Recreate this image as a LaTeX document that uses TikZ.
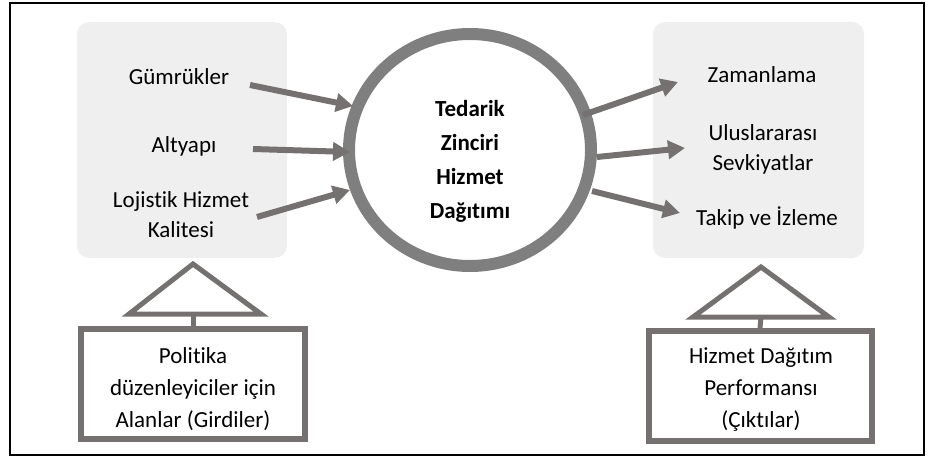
\documentclass[tikz,border=0pt]{standalone}
\usepackage{fontspec}
\setmainfont[Ligatures=NoCommon]{Carlito}
\usetikzlibrary{arrows.meta,shapes.geometric}
\definecolor{ringgray}{HTML}{7F7F7F}
\definecolor{arrgray}{HTML}{767171}
\definecolor{panel}{HTML}{EFEFEF}
\tikzset{
  lbl/.style={font=\fontsize{23}{30}\selectfont, align=center, inner sep=0pt},
  arr/.style={draw=arrgray, line width=6pt, -{Triangle[length=17pt,width=18pt]}},
  panelbox/.style={fill=panel, rounded corners=12pt, draw=none},
  outbox/.style={draw=arrgray, line width=6pt, fill=white, minimum width=224pt, minimum height=110pt, inner sep=0pt},
  tri/.style={draw=arrgray, line width=5pt, line join=miter, fill=white},
}
\begin{document}
\begin{tikzpicture}[x=1pt,y=-1pt]
\useasboundingbox (0,0) rectangle (934,457);
\draw[black, line width=2pt] (10,3) rectangle (924,455);
% panels
\fill[panelbox] (77,22) rectangle (287,258);
\fill[panelbox] (653,22) rectangle (864,258);
% central ellipse
\node[ellipse, draw=ringgray, line width=12pt, minimum width=242pt, minimum height=232pt, inner sep=0pt] (c) at (470,150) {};
\node[font=\fontsize{23}{34}\selectfont\bfseries, align=center] (ct) at (470,161) {Tedarik\\Zinciri\\Hizmet\\Dağıtımı};
% left labels
\node[lbl] (g) at (179,77) {Gümrükler};
\node[lbl] (a) at (184,146) {Altyapı};
\node[lbl] (l) at (181,215) {Lojistik Hizmet\\Kalitesi};
% right labels
\node[lbl] (z) at (762,75) {Zamanlama};
\node[lbl] (u) at (763,149) {Uluslararası\\Sevkiyatlar};
\node[lbl] (t) at (767,218) {Takip ve İzleme};
% arrow coordinates
\coordinate (g1) at (250,85);  \coordinate (g2) at (353,106);
\coordinate (a1) at (253,149); \coordinate (a2) at (350,152);
\coordinate (l1) at (257,217); \coordinate (l2) at (350,190);
\coordinate (z1) at (583,115); \coordinate (z2) at (678,82);
\coordinate (u1) at (597,157); \coordinate (u2) at (685,148);
\coordinate (t1) at (592,191); \coordinate (t2) at (680,213);
\draw[arr] (g1) -- (g2);
\draw[arr] (a1) -- (a2);
\draw[arr] (l1) -- (l2);
\draw[arr] (z1) -- (z2);
\draw[arr] (u1) -- (u2);
\draw[arr] (t1) -- (t2);
% bottom left
\coordinate (ltop) at (193,264);
\coordinate (lbl1) at (129,314);
\coordinate (lbr) at (261,314);
\coordinate (lbm) at (193,314);
\draw[tri] (ltop) -- (lbr) -- (lbl1) -- cycle;
\node[outbox] (pb) at (193,384) {};
\node[lbl, font=\fontsize{23}{32}\selectfont] (pt) at (193,389) {Politika\\düzenleyiciler için\\Alanlar (Girdiler)};
\draw[draw=arrgray, line width=5pt] (lbm) -- (pb.north);
% bottom right
\coordinate (rtop) at (761,267);
\coordinate (rbl) at (693,317);
\coordinate (rbr) at (829,317);
\coordinate (rbm) at (761,317);
\draw[tri] (rtop) -- (rbr) -- (rbl) -- cycle;
\node[outbox, minimum width=223pt] (hb) at (760,386) {};
\node[lbl, font=\fontsize{23}{32}\selectfont] (ht) at (761,390) {Hizmet Dağıtım\\Performansı\\(Çıktılar)};
\draw[draw=arrgray, line width=5pt] (rbm) -- (hb.north);
\end{tikzpicture}
\end{document}
